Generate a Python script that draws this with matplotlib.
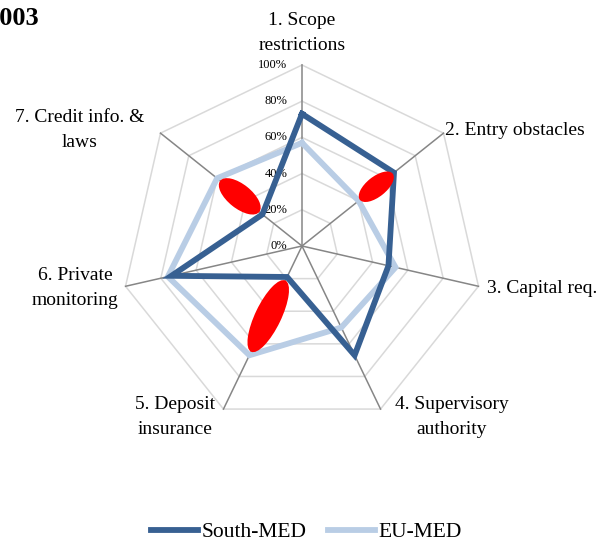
import numpy as np
import matplotlib
matplotlib.use("Agg")
import matplotlib.pyplot as plt
from matplotlib.patches import Ellipse

plt.rcParams['font.family'] = ['Liberation Serif', 'DejaVu Serif']

# data (share of max score)
categories = ["1. Scope\nrestrictions", "2. Entry obstacles", "3. Capital req.",
              "4. Supervisory\nauthority", "5. Deposit\ninsurance",
              "6. Private\nmonitoring", "7. Credit info. &\nlaws"]
south_med = [0.73, 0.65, 0.49, 0.67, 0.19, 0.74, 0.28]
eu_med = [0.57, 0.40, 0.53, 0.50, 0.67, 0.76, 0.60]
grid_levels = [0.0, 0.2, 0.4, 0.6, 0.8, 1.0]
grid_labels = ["0%", "20%", "40%", "60%", "80%", "100%"]
gap_axes = [1, 4, 6]          # axes highlighted in red
title = "2003"

W, H = 613, 541
cx, cy, R = 302, 246, 181     # centre / radius in pixels

fig = plt.figure(figsize=(W / 100, H / 100), dpi=100)
ax = fig.add_axes([0, 0, 1, 1])
ax.set_xlim(-cx / R, (W - cx) / R)
ax.set_ylim((cy - H) / R, cy / R)
ax.axis("off")

n = len(categories)
ang = np.arange(n) * 2 * np.pi / n
ux, uy = np.sin(ang), np.cos(ang)

def ring(vals):
    v = np.asarray(vals, dtype=float)
    x, y = v * ux, v * uy
    return np.append(x, x[0]), np.append(y, y[0])

# grid
for g in grid_levels[1:]:
    gx, gy = ring([g] * n)
    ax.plot(gx, gy, color="#d9d9d9", lw=1.1, zorder=1)
for i in range(n):
    ax.plot([0, ux[i]], [0, uy[i]], color="#868686", lw=1.1, zorder=2)
for g, lab in zip(grid_levels, grid_labels):
    ax.text(-0.08, g, lab, ha="right", va="center", fontsize=9, zorder=3)

# series
sx, sy = ring(south_med)
ex, ey = ring(eu_med)
ax.plot(ex, ey, color="#b9cde5", lw=4.2, solid_joinstyle="miter", zorder=4, label="EU-MED")
ax.plot(sx, sy, color="#376092", lw=4.2, solid_joinstyle="miter", zorder=5, label="South-MED")

# red highlight ellipses
ell_size = {1: (42, 20), 4: (79, 26), 6: (50, 24)}
for i in gap_axes:
    m = (south_med[i] + eu_med[i]) / 2
    a = np.degrees(np.arctan2(uy[i], ux[i]))
    w, h = ell_size[i]
    ax.add_patch(Ellipse((m * ux[i], m * uy[i]), w / R, h / R, angle=a,
                         color="#ff0000", lw=0, zorder=6))

# category labels (pixel positions)
lab_pos = [(302, 33, "center"), (445, 130, "left"), (487, 288, "left"),
           (452, 417, "center"), (175, 417, "center"), (75, 288, "center"),
           (80, 130, "center")]
for (px, py, ha), lab in zip(lab_pos, categories):
    ax.text((px - cx) / R, (cy - py) / R, lab, ha=ha, va="center",
            fontsize=14, linespacing=1.55, zorder=7)

ax.text((-13 - cx) / R, (cy - 18) / R, title, ha="left", va="center",
        fontsize=19, fontweight="bold")

# legend
h, l = ax.get_legend_handles_labels()
leg = fig.legend(h[::-1], l[::-1], loc="center", bbox_to_anchor=(0.5, 9 / H),
                 ncol=2, frameon=False, fontsize=15.5, handlelength=2.2,
                 handletextpad=0.15, columnspacing=1.0)

fig.savefig("out.png", dpi=100)
